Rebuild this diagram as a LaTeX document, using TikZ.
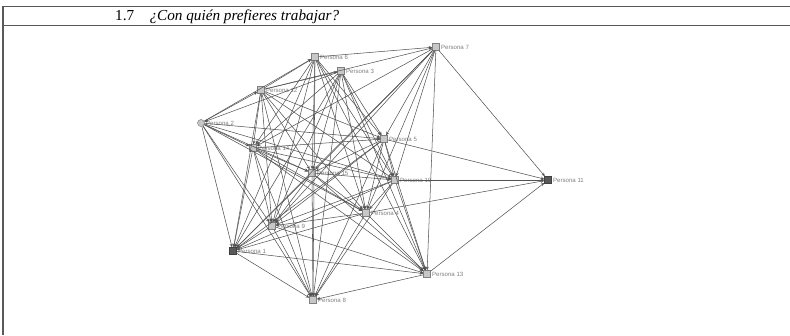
\documentclass[tikz,border=0pt]{standalone}
\usepackage{fontspec}
\setmainfont{Liberation Serif}
\newfontfamily\labfont{Liberation Sans}
\usetikzlibrary{arrows.meta}

\tikzset{
  pers/.style={draw=black!50, fill=black!22, minimum size=6pt, inner sep=0pt, line width=.4pt},
  persd/.style={pers, fill=black!65, draw=black!75},
  lab/.style={font=\labfont\fontsize{5.2}{6}\selectfont, text=black!50, inner sep=1pt},
  tie/.style={-{Stealth[length=3pt,width=2.6pt]}, draw=black!68, line width=.45pt},
  frame/.style={draw=black!65, line width=1.3pt}
}

\begin{document}
\begin{tikzpicture}[x=0.03cm,y=-0.03cm]
\useasboundingbox (0,0) rectangle (790,335);
% table frame
\draw[frame] (3,335)--(3,6.5)--(790,6.5);
\draw[frame] (3,25.5)--(790,25.5);
\node[anchor=base west, inner sep=0pt, font=\fontsize{13}{15}\selectfont] (title) at (115,20.5) {1.7\quad\textit{¿Con quién prefieres trabajar?}};

% actors
\node[pers, label={[lab]right:Persona 6}] (p6) at (315,57) {};
\node[pers, label={[lab]right:Persona 7}] (p7) at (436,47) {};
\node[pers, label={[lab]right:Persona 3}] (p3) at (341,71) {};
\node[pers, label={[lab]right:Persona 12}] (p12) at (261,90) {};
\node[pers, circle, label={[lab]right:Persona 2}] (p2) at (201,123) {};
\node[pers, label={[lab]right:Persona 5}] (p5) at (384,139) {};
\node[pers, label={[lab]right:Persona 14}] (p14) at (253,148) {};
\node[pers, label={[lab]right:Persona 15}] (p15) at (312,173) {};
\node[pers, label={[lab]right:Persona 10}] (p10) at (395,180) {};
\node[persd, label={[lab]right:Persona 11}] (p11) at (548,180) {};
\node[pers, label={[lab]right:Persona 4}] (p4) at (366,213) {};
\node[pers, label={[lab]right:Persona 9}] (p9) at (272,226) {};
\node[persd, label={[lab]right:Persona 1}] (p1) at (233,251) {};
\node[pers, label={[lab]right:Persona 13}] (p13) at (427,274) {};
\node[pers, label={[lab]right:Persona 8}] (p8) at (313,300) {};

% ties
\foreach \a/\b in {p2/p12,p2/p6,p2/p14,p2/p5,p2/p10,p2/p4,p2/p9,p2/p1,p2/p15,p2/p8,
  p12/p6,p12/p7,p12/p3,p12/p14,p12/p5,p12/p10,p12/p15,p12/p4,p12/p9,p12/p1,p12/p8,
  p6/p7,p6/p14,p6/p15,p6/p5,p6/p10,p6/p4,p6/p9,p6/p1,p6/p8,p6/p13,
  p3/p14,p3/p15,p3/p5,p3/p10,p3/p4,p3/p9,p3/p1,p3/p8,p3/p13,p3/p2,
  p7/p14,p7/p15,p7/p5,p7/p10,p7/p4,p7/p9,p7/p1,p7/p11,p7/p13,
  p14/p5,p14/p15,p14/p10,p14/p4,p14/p9,p14/p1,p14/p8,p14/p13,
  p5/p11,p5/p15,p5/p10,p5/p9,p5/p1,p5/p8,p5/p13,p5/p4,
  p15/p10,p15/p4,p15/p9,p15/p1,p15/p8,p15/p13,
  p10/p11,p10/p4,p10/p9,p10/p1,p10/p8,p10/p13,
  p4/p11,p4/p9,p4/p1,p4/p8,p4/p13,
  p9/p1,p9/p8,p9/p13,
  p1/p8,p1/p13,
  p13/p11,p13/p8}
  \draw[tie] (\a)--(\b);
%\draw[tie] (p11)--(p2);
\end{tikzpicture}
\end{document}
